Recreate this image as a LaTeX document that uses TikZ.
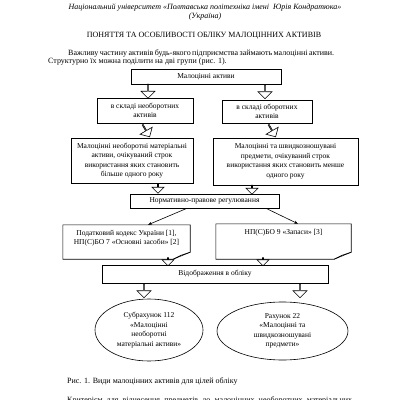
\documentclass[tikz,border=0pt]{standalone}
\usepackage{fontspec}
\setmainfont{Liberation Serif}
\usetikzlibrary{shapes.geometric,shapes.arrows,arrows.meta}

\begin{document}
\begin{tikzpicture}[x=1pt,y=-1pt]
    \tikzset{
    box/.style={rectangle,draw,line width=0.6pt,align=center,inner sep=1pt,font=\fontsize{7.5}{9.5}\selectfont},
    doc/.style={rectangle,align=center,inner sep=1pt,font=\fontsize{7.5}{9.5}\selectfont},
    ell/.style={ellipse,draw,line width=0.6pt,align=center,inner sep=0pt,font=\fontsize{7.5}{9.5}\selectfont},
    arr/.style={single arrow,draw,line width=0.6pt,inner sep=0pt,minimum width=14,minimum height=14,single arrow head extend=3.5,shape border rotate=270},
    sarr/.style={arr,minimum width=12,minimum height=9,single arrow head extend=3},
    c1/.style={line width=0.6pt,-{Stealth[length=4pt,width=3pt]}},
    txt/.style={inner sep=0pt,font=\fontsize{8}{9.5}\selectfont},
    }
    \useasboundingbox (0,0) rectangle (400,400);
    \clip (0,0) rectangle (400,400);

    \node[txt,font=\fontsize{8}{9.5}\selectfont\itshape] (h1) at (205,8) {Національний університет «Полтавська політехніка імені\ \ Юрія Кондратюка»};
    \node[txt,font=\fontsize{8}{9.5}\selectfont\itshape] (h2) at (205,17) {(Україна)};
    \node[txt] (t1) at (204,36) {ПОНЯТТЯ ТА ОСОБЛИВОСТІ ОБЛІКУ МАЛОЦІННИХ АКТИВІВ};
    \node[txt,anchor=west] (p1) at (68,53) {\makebox[266pt][s]{Важливу частину активів будь-якого підприємства займають малоцінні активи.}};
    \node[txt,anchor=west] (p2) at (48,62) {Структурно їх можна поділити на дві групи (рис. 1).};

    \node[box,minimum width=150,minimum height=15] (b1) at (206,76.5) {Малоцінні активи};
    \node[box,minimum width=96,minimum height=25] (b2) at (145,110.5) {в складі необоротних\\активів};
    \node[box,minimum width=90,minimum height=23] (b3) at (267,111.5) {в складі оборотних\\активів};
    \node[box,minimum width=122,minimum height=45] (b4) at (132,160.5) {Малоцінні необоротні матеріальні\\активи, очікуваний строк\\використання яких становить\\більше одного року};
    \node[box,minimum width=145,minimum height=47] (b5) at (285.5,161.5) {Малоцінні та швидкозношувані\\предмети, очікуваний строк\\використання яких становить менше\\одного року};
    \node[box,minimum width=149,minimum height=14] (b6) at (204.5,201) {Нормативно-правове регулювання};
    \node[doc,minimum width=127,minimum height=34] (b7) at (126.5,242) {Податковий кодекс України [1],\\НП(С)БО 7 «Основні засоби» [2]\\\mbox{}};
    \node[doc,minimum width=135,minimum height=35] (b8) at (283.5,241.5) {НП(С)БО 9 «Запаси» [3]\\\mbox{}\\\mbox{}};
    \node[box,minimum width=226,minimum height=18] (b9) at (215,274) {Відображення в обліку};
    \node[ell,minimum width=108,minimum height=62] (e1) at (149,330) {Субрахунок 112\\«Малоцінні\\необоротні\\матеріальні активи»};
    \node[ell,minimum width=131,minimum height=58] (e2) at (282.5,331) {Рахунок 22\\«Малоцінні та\\швидкозношувані\\предмети»};

    % documents with folded corner
    \draw[line width=0.6pt] (b7.north west) -- (b7.north east) -- ([yshift=7pt]b7.south east) -- ([xshift=-17pt]b7.south east) -- (b7.south west) -- cycle;
    \draw[line width=0.6pt] ([yshift=7pt]b7.south east) -- ([xshift=-9pt,yshift=4pt]b7.south east) -- ([xshift=-17pt]b7.south east);
    \draw[line width=0.6pt] (b8.north west) -- (b8.north east) -- ([yshift=7pt]b8.south east) -- ([xshift=-17pt]b8.south east) -- (b8.south west) -- cycle;
    \draw[line width=0.6pt] ([yshift=7pt]b8.south east) -- ([xshift=-9pt,yshift=4pt]b8.south east) -- ([xshift=-17pt]b8.south east);

    \node[arr] (a1) at (148,91) {};
    \node[arr] (a2) at (265,91.5) {};
    \node[arr,shape border rotate=0,rotate=-60] (a3) at (146,130.5) {};
    \node[arr,shape border rotate=0,rotate=-60] (a4) at (272,130.5) {};
    \node[sarr] (a5) at (158,188.5) {};
    \node[sarr] (a6) at (252,189.5) {};
    \node[sarr,minimum height=8] (a7) at (168,261.5) {};
    \node[sarr,minimum height=8] (a8) at (263,261.5) {};
    \node[arr] (a9) at (144,290.5) {};
    \node[arr] (a10) at (300,290.5) {};

    \draw[c1] ([xshift=-17.5pt]b6.south) -- ([xshift=21.5pt]b7.north);
    \draw[c1] ([xshift=61.5pt]b6.south) -- ([xshift=14.5pt]b8.north);

    \node[txt,anchor=west] (cap) at (67,381) {Рис. 1. Види малоцінних активів для цілей обліку};
    \node[txt,anchor=west] (p3) at (67,400) {\makebox[285pt][s]{Критерієм для віднесення предметів до малоцінних необоротних матеріальних}};
\end{tikzpicture}
\end{document}
